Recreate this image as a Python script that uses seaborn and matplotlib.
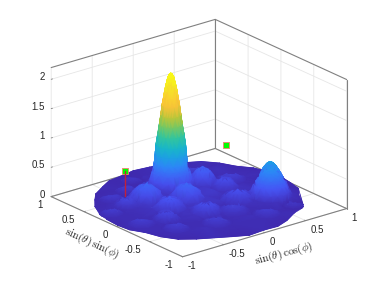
import numpy as np
import matplotlib
matplotlib.use("Agg")
import matplotlib.pyplot as plt
import matplotlib.tri as mtri
from mpl_toolkits.mplot3d import proj3d
import seaborn as sns

sns.set_theme(style="white")
plt.rcParams['font.family'] = ['Liberation Sans', 'DejaVu Sans']
plt.rcParams['mathtext.fontset'] = 'cm'

# axis ticks
tick_vals = [-1, -0.5, 0, 0.5, 1]
tick_labels = ['-1', '-0.5', '0', '0.5', '1']
z_ticks = [0, 0.5, 1, 1.5, 2]
z_labels = ['0', '0.5', '1', '1.5', '2']
x_title = r'$\sin(\theta)\,\cos(\phi)$'
y_title = r'$\sin(\theta)\,\sin(\phi)$'

# parula, for the height colours
parula = ['#3e26a8', '#4752f4', '#2d87f7', '#12b1d6', '#37c897',
          '#abc739', '#fec338', '#f5e327', '#f9fb14']

# disc rim, read at even angles
rim_radius = [1.0, 0.99, 1.0, 0.98, 1.0, 0.99, 1.0, 1.0, 0.98, 1.0, 0.99, 1.0,
              0.98, 1.0, 0.99, 1.0, 0.97, 1.0, 0.99, 1.0, 0.98, 1.0, 1.0, 0.99,
              1.0, 0.98, 1.0, 0.99, 1.0, 0.98, 0.97, 1.0, 0.98, 0.96, 1.0, 0.99]
rim_height = [0.03, 0.04, 0.03, 0.02, 0.03, 0.05, 0.03, 0.02, 0.04, 0.03, 0.02, 0.03,
              0.04, 0.02, 0.03, 0.03, 0.05, 0.03, 0.02, 0.03, 0.04, 0.03, 0.02, 0.03,
              0.05, 0.03, 0.02, 0.04, 0.03, 0.03, 0.05, 0.03, 0.02, 0.04, 0.03, 0.03]

# main beam, radial profile
main_x, main_y = -0.01, 0.415
main_radius = [0.0, 0.015, 0.03, 0.047, 0.06, 0.07, 0.084, 0.097, 0.11, 0.126,
               0.142, 0.15, 0.158, 0.168, 0.18, 0.2, 0.22, 0.25]
main_height = [2.0, 1.98, 1.93, 1.81, 1.71, 1.6, 1.47, 1.3, 1.14, 0.97,
               0.8, 0.65, 0.5, 0.41, 0.34, 0.22, 0.14, 0.08]

# second beam, radial profile
side_x, side_y = 0.582, -0.36
side_radius = [0.0, 0.015, 0.03, 0.045, 0.06, 0.075, 0.09, 0.107, 0.125, 0.142,
               0.16, 0.185, 0.21]
side_height = [0.64, 0.63, 0.62, 0.59, 0.56, 0.52, 0.48, 0.43, 0.37, 0.32,
               0.27, 0.16, 0.07]

# side lobes: centre, top height, base radius
lobe_x = [-0.415, -0.113, 0.27, 0.38, 0.574, 0.28, 0.075, -0.154, -0.38, -0.635,
          -0.556, -0.861, -0.634, -0.81, 0.28, -0.626, -0.244, 0.62, 0.10, -0.178,
          0.40, 0.85, -0.38]
lobe_y = [0.277, 0.048, 0.28, 0.08, 0.226, -0.24, -0.428, -0.306, -0.03, 0.304,
          -0.203, 0.25, 0.533, -0.141, -0.68, -0.442, -0.57, -0.66, 0.72, 0.80,
          0.584, -0.10, 0.62]
lobe_top = [0.36, 0.36, 0.36, 0.24, 0.16, 0.24, 0.16, 0.24, 0.28, 0.2,
            0.2, 0.14, 0.13, 0.14, 0.14, 0.14, 0.14, 0.1, 0.15, 0.1,
            0.15, 0.1, 0.13]
lobe_size = [0.18, 0.18, 0.14, 0.14, 0.15, 0.17, 0.16, 0.16, 0.17, 0.13,
             0.14, 0.12, 0.13, 0.14, 0.14, 0.14, 0.15, 0.1, 0.1, 0.11,
             0.14, 0.11, 0.12]
lobe_ring = [0.0, 0.25, 0.5, 0.75, 1.0]
lobe_share = [1.0, 0.95, 0.8, 0.58, 0.3]

# low ground between the lobes
fill_x = [-0.25, 0.1, 0.2, -0.52, 0.46, -0.42, 0.12, 0.62, -0.05]
fill_y = [-0.17, -0.2, 0.02, 0.06, -0.62, -0.62, -0.66, 0.5, 0.78]
fill_z = [0.1, 0.1, 0.12, 0.1, 0.07, 0.07, 0.07, 0.07, 0.07]

# the two green markers
marker_x = [-0.438, 1.0]
marker_y = [0.574, 0.83]
marker_z = [0.42, 0.14]

fig = plt.figure(figsize=(3.82, 2.87), dpi=100)
ax = fig.add_subplot(projection='3d')
ax.set_position([-0.1935, -0.2, 1.4, 1.4])
ax.set_proj_type('ortho')
ax.view_init(elev=21.5, azim=-128.7)
ax.set_box_aspect((1, 1, 0.66), zoom=0.7925)
ax.set_xlim(-1, 1)
ax.set_ylim(-1, 1)
ax.set_zlim(0, 2.2)
# tick text goes on the top layer, mplot3d can only push it along the tick direction
ax.set_xticks(tick_vals, [''] * len(tick_vals))
ax.set_yticks(tick_vals, [''] * len(tick_vals))
ax.set_zticks(z_ticks, [''] * len(z_ticks))
ax.tick_params(color='#808080', width=0.6)

for axis in (ax.xaxis, ax.yaxis, ax.zaxis):
    axis.set_pane_color((1, 1, 1, 1))
    axis.pane.set_edgecolor('none')
    axis._axinfo['grid'].update(color='#e6e6e6', linewidth=0.6)
    axis._axinfo['tick'].update(inward_factor=0, outward_factor=0.1, linewidth={True: 0.6, False: 0.4})
    axis.line.set_color('#808080')
    axis.line.set_linewidth(0.8)
ax.zaxis.line.set_color((1, 1, 1, 0))

# box edges the axis lines do not cover
edge_kw = dict(color='#808080', lw=0.8)
ax.plot([-1, 1], [1, 1], [2.2, 2.2], **edge_kw)
ax.plot([1, 1], [1, -1], [2.2, 2.2], **edge_kw)
ax.plot([1, 1], [1, 1], [0, 2.2], **edge_kw)
ax.plot([1, 1], [-1, -1], [0, 2.2], **edge_kw)
ax.plot([-1, 1], [1, 1], [0, 0], **edge_kw)
ax.plot([1, 1], [1, -1], [0, 0], **edge_kw)

# surface points
pts_x, pts_y, pts_z = [], [], []
rim_angle = np.linspace(0, 2 * np.pi, len(rim_radius), endpoint=False)
pts_x += list(np.array(rim_radius) * np.cos(rim_angle))
pts_y += list(np.array(rim_radius) * np.sin(rim_angle))
pts_z += rim_height
n_rim = len(pts_x)


def add_rings(cx, cy, radii, heights, spokes):
    angle = np.linspace(0, 2 * np.pi, spokes, endpoint=False)
    for r, h in zip(radii, heights):
        if r == 0:
            pts_x.append(cx)
            pts_y.append(cy)
            pts_z.append(h)
        else:
            pts_x.extend(cx + r * np.cos(angle))
            pts_y.extend(cy + r * np.sin(angle))
            pts_z.extend([h] * spokes)


add_rings(main_x, main_y, main_radius, main_height, 24)
add_rings(side_x, side_y, side_radius, side_height, 20)
for lx, ly, top, size in zip(lobe_x, lobe_y, lobe_top, lobe_size):
    add_rings(lx, ly, [size * r for r in lobe_ring], [top * s for s in lobe_share], 14)
pts_x += fill_x
pts_y += fill_y
pts_z += fill_z

fig.canvas.draw()


def to_pixels(x, y, z):
    px, py, depth = proj3d.proj_transform(np.array(x, dtype=float), np.array(y, dtype=float),
                                          np.array(z, dtype=float), ax.get_proj())
    xy = ax.transData.transform(np.column_stack([px, py]))
    return xy[:, 0], xy[:, 1], depth


tri = mtri.Triangulation(pts_x, pts_y).triangles
tri = tri[~(tri < n_rim).all(axis=1)]
sx, sy, depth = to_pixels(pts_x, pts_y, pts_z)
tri = tri[np.argsort(-depth[tri].mean(axis=1))]

# on-screen thickness of each triangle, agg gouraud misbehaves on slivers
ex = sx[tri] - np.roll(sx[tri], 1, axis=1)
ey = sy[tri] - np.roll(sy[tri], 1, axis=1)
area = np.abs(ex[:, 0] * ey[:, 1] - ex[:, 1] * ey[:, 0])
thick = area / np.hypot(ex, ey).max(axis=1)

# surface layer on top, in pixel coordinates
top = fig.add_axes([0, 0, 1, 1], facecolor='none')
cmap = sns.blend_palette(parula, as_cmap=True)
# flat pass under the gouraud pass closes the seams between triangles
top.tripcolor(sx, sy, tri, np.array(pts_z), shading='flat', cmap=cmap, vmin=0, vmax=2,
              edgecolors='face', linewidth=0.4)
top.tripcolor(sx, sy, tri[thick > 1.5], np.array(pts_z), shading='gouraud', cmap=cmap, vmin=0, vmax=2)

mx, my, _ = to_pixels(marker_x, marker_y, marker_z)
fx, fy, _ = to_pixels(marker_x[:1], marker_y[:1], [0])
top.plot([mx[0], fx[0]], [my[0], fy[0]], color='#c0203c', lw=1)
sns.scatterplot(x=mx, y=my, ax=top, marker='s', s=14, color='#00ff00',
                edgecolor='#f08070', linewidth=0.6, legend=False)

# tick labels and axis titles
text_kw = dict(fontsize=7, color='#262626', va='center')
n = len(tick_vals)
tx, ty, _ = to_pixels(tick_vals, [-1] * n, [0] * n)
for px, py, lab in zip(tx, ty, tick_labels):
    top.text(px + 5, py - 9, lab, ha='left', **text_kw)
tx, ty, _ = to_pixels([-1] * n, tick_vals, [0] * n)
for px, py, lab in zip(tx, ty, tick_labels):
    top.text(px - 9, py - 8, lab, ha='right', **text_kw)
tx, ty, _ = to_pixels([-1] * n, [1] * n, z_ticks)
for px, py, lab in zip(tx, ty, z_labels):
    top.text(px - 6.5, py + 2, lab, ha='right', **text_kw)
top.text(284, 287 - 254, x_title, fontsize=8, color='#262626', rotation=15,
         ha='center', va='center', rotation_mode='anchor')
top.text(92, 287 - 244, y_title, fontsize=8, color='#262626', rotation=-25,
         ha='center', va='center', rotation_mode='anchor')

top.set_xlim(0, 382)
top.set_ylim(0, 287)
top.axis('off')

fig.savefig('out.png', dpi=100)
